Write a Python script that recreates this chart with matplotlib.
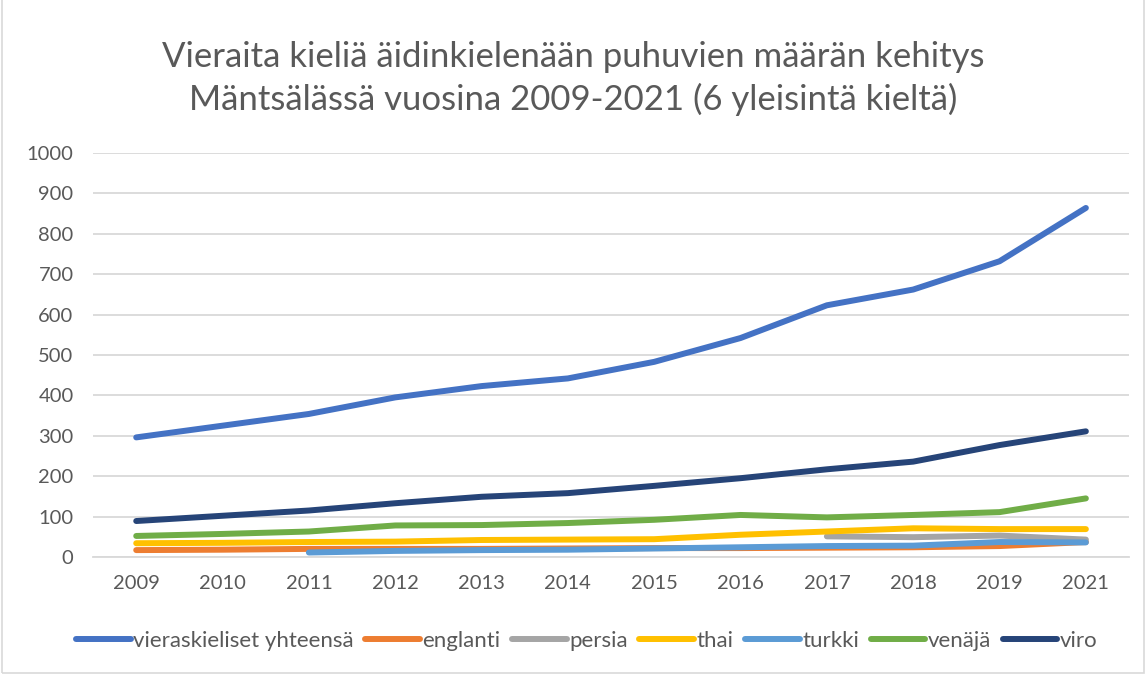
import matplotlib
matplotlib.use("Agg")
import matplotlib.pyplot as plt
import numpy as np

years = ["2009", "2010", "2011", "2012", "2013", "2014", "2015", "2016", "2017", "2018", "2019", "2021"]

vieraskieliset = [296, 325, 354, 395, 423, 442, 483, 542, 623, 662, 732, 864]
englanti = [17, 18, 20, 20, 20, 21, 22, 22, 23, 24, 27, 37]
persia = [None, None, None, None, None, None, None, None, 51, 49, 53, 43]
thai = [34, 35, 37, 38, 42, 43, 44, 55, 63, 71, 69, 69]
turkki = [None, None, 11, 15, 17, 18, 21, 24, 27, 28, 37, 36]
venaja = [52, 57, 63, 78, 79, 84, 92, 104, 98, 104, 111, 145]
viro = [89, 102, 115, 133, 149, 158, 176, 195, 217, 236, 277, 311]

series = [
    ("vieraskieliset yhteensä", vieraskieliset, "#4472C4"),
    ("englanti", englanti, "#ED7D31"),
    ("persia", persia, "#A5A5A5"),
    ("thai", thai, "#FFC000"),
    ("turkki", turkki, "#5B9BD5"),
    ("venäjä", venaja, "#70AD47"),
    ("viro", viro, "#264478"),
]

plt.rcParams["font.family"] = ["Lato", "DejaVu Sans"]
txt = "#595959"

fig = plt.figure(figsize=(11.46, 6.77), dpi=100)
ax = fig.add_axes([0.0812, 0.1773, 0.9040, 0.5967])

x = np.arange(len(years))
for name, vals, col in series:
    y = np.array([np.nan if v is None else v for v in vals], dtype=float)
    ax.plot(x, y, color=col, lw=4.3, label=name, solid_capstyle="round",
            solid_joinstyle="round")

ax.set_xlim(-0.5, len(years) - 0.5)
ax.set_ylim(0, 1000)
ax.set_yticks(range(0, 1001, 100))
ax.set_xticks(x)
ax.set_xticklabels(years)
ax.grid(axis="y", color="#D9D9D9", lw=1.3)
ax.set_axisbelow(True)
for s in ["top", "right", "left"]:
    ax.spines[s].set_visible(False)
ax.spines["bottom"].set_color("#D9D9D9")
ax.spines["bottom"].set_linewidth(1.3)
ax.tick_params(axis="both", length=0, colors=txt, labelsize=14.5)
ax.tick_params(axis="y", pad=14)
ax.tick_params(axis="x", pad=13)

fig.text(0.5, 0.884, "Vieraita kieliä äidinkielenään puhuvien määrän kehitys\n"
         "Mäntsälässä vuosina 2009-2021 (6 yleisintä kieltä)",
         ha="center", va="center", fontsize=25, color=txt,
         linespacing=1.33)

leg = fig.legend(loc="center", bbox_to_anchor=(0.512, 0.053), ncol=7, frameon=False,
                 fontsize=16, handlelength=2.45, handletextpad=0.12,
                 columnspacing=0.52, labelcolor=txt)

fig.patches.append(plt.Rectangle((0.002, 0.006), 0.996, 1.2, transform=fig.transFigure,
                                 fill=False, edgecolor="#D9D9D9", lw=1.2))

fig.savefig("out.png", dpi=100)
